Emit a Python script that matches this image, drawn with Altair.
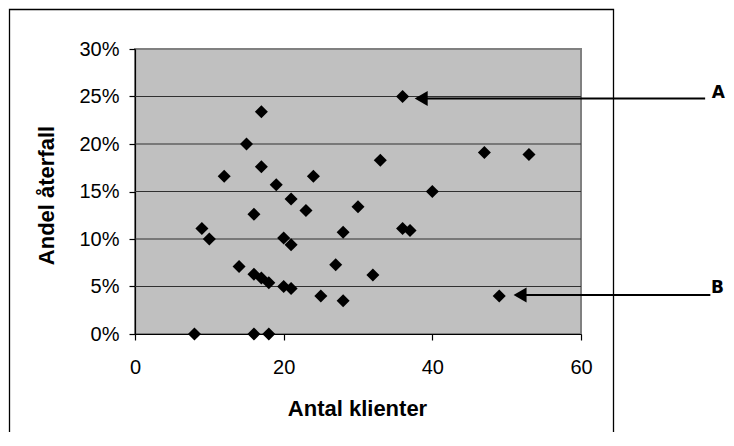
import altair as alt
import pandas as pd

# Data
klienter = [17, 15, 17, 12, 19, 24, 21, 23, 30, 16, 9, 10, 20, 21, 28, 14, 27, 16,
            17, 18, 20, 21, 25, 28, 8, 16, 18, 36, 33, 47, 53, 40, 36, 37, 32, 49]
andel = [0.234, 0.200, 0.176, 0.166, 0.157, 0.166, 0.142, 0.130, 0.134, 0.126, 0.111,
         0.100, 0.101, 0.094, 0.107, 0.071, 0.073, 0.063, 0.059, 0.054, 0.050, 0.048,
         0.040, 0.035, 0.0, 0.0, 0.0, 0.250, 0.183, 0.191, 0.189, 0.150, 0.111, 0.109,
         0.062, 0.040]

x_ticks = [0, 20, 40, 60]
y_ticks = [0, 0.05, 0.10, 0.15, 0.20, 0.25, 0.30]
grid_vals = [0.05, 0.10, 0.15, 0.20, 0.25]

# Annotations (arrows A and B), in data units
ann_labels = ["A", "B"]
ann_y = [0.248, 0.041]
ann_head_x = [38.5, 51.8]
ann_end_x = [76.7, 77.4]
ann_label_x = [77.6, 77.5]
ann_label_y = [0.248, 0.043]

pts = pd.DataFrame({"x": klienter, "y": andel})
grid = pd.DataFrame({"y": grid_vals})
arrows = pd.DataFrame({"x": ann_head_x, "x2": ann_end_x, "y": ann_y})
labels = pd.DataFrame({"x": ann_label_x, "y": ann_label_y, "t": ann_labels})
box = pd.DataFrame({"k": [0]})

xscale = alt.Scale(domain=[0, 60], nice=False, zero=False)
yscale = alt.Scale(domain=[0, 0.30], nice=False)

x_axis = alt.Axis(values=x_ticks, title="Antal klienter", grid=False, labelFlush=False,
                  tickSize=6, labelPadding=33, labelBaseline="alphabetic",
                  titleY=81, titleBaseline="alphabetic", titleX=222)
y_axis = alt.Axis(values=y_ticks, format=".0%", title="Andel återfall", grid=False,
                  labelFlush=False,
                  tickSize=6, labelPadding=10, titleX=-82, titleY=146,
                  titleBaseline="alphabetic")

X = alt.X("x:Q", scale=xscale, axis=x_axis)
Y = alt.Y("y:Q", scale=yscale, axis=y_axis)

frame = alt.Chart(box).mark_rect(fill=None, stroke="black", strokeWidth=1.3).encode(
    x=alt.value(-125.5), x2=alt.value(478.5), y=alt.value(-39.5), y2=alt.value(440)
)

grid_layer = alt.Chart(grid).mark_rule(color="#303030", strokeWidth=1).encode(y=Y)

points = alt.Chart(pts).mark_point(shape="diamond", filled=True, size=170,
                                   color="black", opacity=1).encode(x=X, y=Y)

arrow_lines = alt.Chart(arrows).mark_rule(color="black", strokeWidth=2).encode(
    x=X, x2="x2:Q", y=Y)

arrow_heads = alt.Chart(arrows).mark_point(shape="triangle-left", filled=True,
                                           size=225, color="black", opacity=1).encode(x=X, y=Y)

label_layer = alt.Chart(labels).mark_text(font="DejaVu Sans", fontWeight="bold",
                                          fontSize=17, align="left",
                                          baseline="alphabetic", color="black").encode(
    x=X, y=Y, text="t:N")

chart = alt.layer(frame, grid_layer, points, arrow_lines, arrow_heads, label_layer).properties(
    width=446, height=285,
    padding={"left": 127, "top": 41, "right": 145, "bottom": 98},
    autosize=alt.AutoSizeParams(type="none"),
    background="white",
).configure_view(
    fill="#C0C0C0", stroke="#808080", strokeWidth=2
).configure_axis(
    labelFont="Liberation Sans", labelFontSize=20, labelColor="black",
    titleFont="Liberation Sans", titleFontSize=22, titleFontWeight="bold",
    titleColor="black", domainColor="black", domainWidth=1.2,
    tickColor="black", tickWidth=1.2
)

chart.save("out.html", embed_options={"renderer": "svg", "actions": False})
